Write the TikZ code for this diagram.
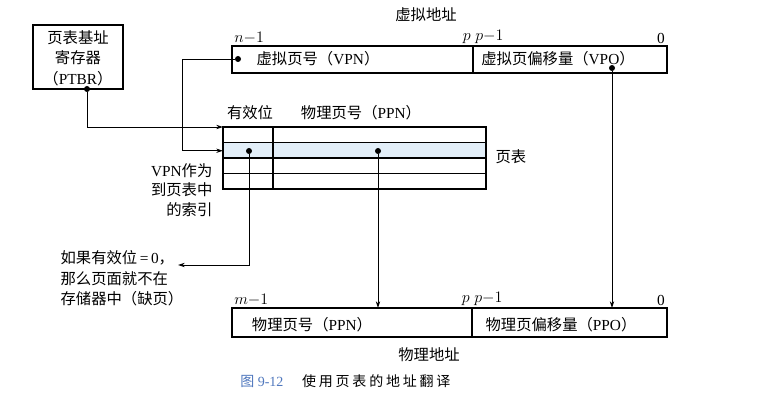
\documentclass[tikz,border=0pt]{standalone}
\usepackage{fontspec}
\setmainfont{Liberation Serif}
\newfontfamily\cjk{Noto Sans CJK SC}
\newfontfamily\cjkwide[LetterSpace=20]{Noto Sans CJK SC}
\newcommand{\zh}[1]{{\cjk #1}}
\usetikzlibrary{arrows.meta,positioning,calc}
\definecolor{rowblue}{RGB}{226,238,248}
\definecolor{capblue}{RGB}{80,120,190}
\tikzset{
  field/.style={draw,line width=1.2pt,inner sep=0pt,outer sep=0pt,anchor=north west},
  conn/.style={line width=0.6pt},
  arr/.style={conn,-{Stealth[length=5pt,width=3.2pt]}},
  dot/.style={circle,fill,inner sep=0pt,minimum size=4.5pt},
  lbl/.style={font=\fontsize{11.5}{15.5}\selectfont,inner sep=1pt},
  bit/.style={font=\fontsize{11.5}{13}\selectfont,inner sep=1.5pt},
}

\begin{document}
\begin{tikzpicture}[x=0.75pt,y=-0.75pt]
\useasboundingbox[fill=white] (0,0) rectangle (768,417);

% page table base register
\node[field,minimum width=67.5pt,minimum height=48pt] (ptbr) at (33,25) {};
\node[lbl,align=center] (ptbrtxt) at (78,58) {\zh{页表基址}\\\zh{寄存器}\\\zh{（}PTBR\zh{）}};

% virtual address
\node[lbl] (vatitle) at (426,15) {\zh{虚拟地址}};
\node[field,minimum width=180.75pt,minimum height=20.25pt] (vpn) at (232,46) {};
\node[field,minimum width=145.5pt,minimum height=20.25pt] (vpo) at (vpn.north east) {};
\node[lbl] (vpntxt) at (318,59) {\zh{虚拟页号（}VPN\zh{）}};
\node[lbl] (vpotxt) at (558,59) {\zh{虚拟页偏移量（}VPO\zh{）}};
\node[bit,anchor=south west] (vn) at (vpn.north west) {$n{-}1$};
\node[bit,anchor=south east] (vp) at (vpn.north east) {$p$};
\node[bit,anchor=south west] (vp1) at (vpo.north west) {$p{-}1$};
\node[bit,anchor=south east] (v0) at (vpo.north east) {0};

% page table
\fill[rowblue] (223,142.5) rectangle (486,158);
\node[field,minimum width=197.25pt,minimum height=46.5pt] (pt) at (223,127) {};
\foreach \r in {1,2,3}
  \draw[line width=1.2pt] ($(pt.north west)+(0,15.5*\r)$) -- ($(pt.north east)+(0,15.5*\r)$);
\draw[line width=1.2pt] (273,127) -- (273,189);
\coordinate (row2) at ($(pt.north west)+(0,23.75)$);
\node[lbl] (validhd) at (250,113) {\zh{有效位}};
\node[lbl] (ppnhd) at (361,113) {\zh{物理页号（}PPN\zh{）}};
\node[lbl,anchor=west] (pttxt) at (494,157) {\zh{页表}};
\node[lbl,align=right,anchor=north east,font=\fontsize{11.5}{14.5}\selectfont] (index) at (214,162)
  {VPN\zh{作为}\\\zh{到页表中}\\\zh{的索引}};
\node[lbl,align=left,anchor=north west] (fault) at (59,249)
  {\zh{如果有效位}\,=\,0\zh{，}\\\zh{那么页面就不在}\\\zh{存储器中（缺页）}};
\coordinate (faultin) at (178,265);

% physical address
\node[field,minimum width=180pt,minimum height=21.75pt] (ppn) at (232,308) {};
\node[field,minimum width=146.25pt,minimum height=21.75pt] (ppo) at (ppn.north east) {};
\node[lbl] (ppntxt) at (312,325) {\zh{物理页号（}PPN\zh{）}};
\node[lbl] (ppotxt) at (561,325) {\zh{物理页偏移量（}PPO\zh{）}};
\node[bit,anchor=south west] (pm) at (ppn.north west) {$m{-}1$};
\node[bit,anchor=south east] (pp) at (ppn.north east) {$p$};
\node[bit,anchor=south west] (pp1) at (ppo.north west) {$p{-}1$};
\node[bit,anchor=south east] (p0) at (ppo.north east) {0};
\node[lbl] (patitle) at (429,355) {\zh{物理地址}};

% caption
\node[anchor=west,inner sep=0pt,font=\fontsize{10.5}{12}\selectfont] (cap) at (240,381)
  {{\color{capblue}\zh{图} 9-12}\hspace{14pt}{\cjkwide 使用页表的地址翻译}};

% dots
\node[dot] (ptbrdot) at (87,89) {};
\node[dot] (vpndot) at (238,59) {};
\node[dot] (vpodot) at (612,68) {};
\node[dot] (validdot) at (249,151) {};
\node[dot] (ppndot) at (378,151) {};

% connectors
\draw[arr] (ptbrdot) |- (pt.north west);
\draw[arr] (vpndot) -- ++(-56,0) |- (row2);
\draw[arr] (validdot) |- (faultin);
\draw[arr] (ppndot) -- (ppndot |- ppn.north);
\draw[arr] (vpodot) -- (vpodot |- ppo.north);
\end{tikzpicture}
\end{document}
